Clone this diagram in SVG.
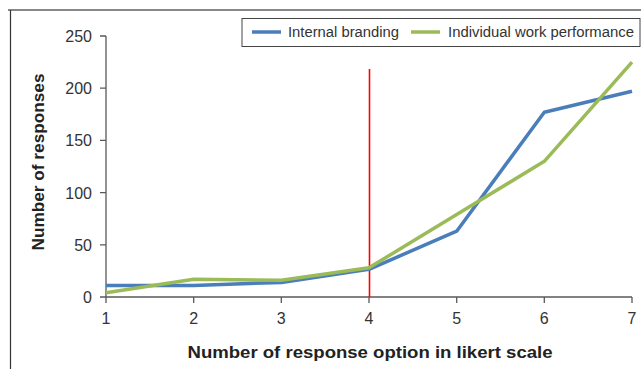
<svg xmlns="http://www.w3.org/2000/svg" width="641" height="369" viewBox="0 0 641 369">
<style>
.lbl{font-family:"Liberation Sans",Arial,sans-serif;font-size:16px;fill:#333}
.ttl{font-family:"Liberation Sans",Arial,sans-serif;font-size:17px;font-weight:bold;fill:#222}
.leg{font-family:"Liberation Sans",Arial,sans-serif;font-size:14px;fill:#333}
.axis{stroke:#595959;stroke-width:1.3;fill:none}
.s1{stroke:#4a7ebb;stroke-width:3.5;fill:none;stroke-linejoin:round}
.s2{stroke:#9bbb59;stroke-width:3.5;fill:none;stroke-linejoin:round}
</style>
<rect width="641" height="369" fill="#fff"/>
<g id="frame">
<line x1="8" y1="10" x2="641" y2="10" stroke="#888" stroke-width="2"/>
<line x1="10.5" y1="10" x2="10.5" y2="369" stroke="#333" stroke-width="1.2"/>
</g>
<g id="y-axis">
<path class="axis" d="M106 36V297M100 36H106M100 88.2H106M100 140.4H106M100 192.6H106M100 244.8H106M100 297H106"/>
<g class="lbl" text-anchor="end">
<text x="92" y="42">250</text>
<text x="92" y="94">200</text>
<text x="92" y="146">150</text>
<text x="92" y="198.5">100</text>
<text x="92" y="250.5">50</text>
<text x="92" y="303">0</text>
</g>
<text class="ttl" transform="translate(44,162) rotate(-90)" text-anchor="middle" textLength="177" lengthAdjust="spacingAndGlyphs">Number of responses</text>
</g>
<g id="x-axis">
<path class="axis" d="M106 297H632M106 297V303M193.7 297V303M281.3 297V303M369 297V303M456.7 297V303M544.3 297V303M632 297V303"/>
<g class="lbl" text-anchor="middle">
<text x="106" y="324">1</text>
<text x="193.7" y="324">2</text>
<text x="281.3" y="324">3</text>
<text x="369" y="324">4</text>
<text x="456.7" y="324">5</text>
<text x="544.3" y="324">6</text>
<text x="632" y="324">7</text>
</g>
<text class="ttl" x="370" y="358" text-anchor="middle" textLength="365" lengthAdjust="spacingAndGlyphs">Number of response option in likert scale</text>
</g>
<g id="connectors">
<line id="cutoff" x1="369.5" y1="69" x2="369.5" y2="297" stroke="#ff0000" stroke-width="1.6"/>
<polyline id="internal-branding" class="s1" points="106,285.5 193.7,285.5 281.3,282.4 369,269.3 456.7,231.2 544.3,112.2 632,91.3"/>
<polyline id="individual-work-performance" class="s2" points="106,292.8 193.7,279.3 281.3,280.3 369,267.8 456.7,214.5 544.3,161.3 632,62.1"/>
</g>
<g id="legend">
<rect x="242" y="18.5" width="398" height="28" fill="#fff" stroke="#444" stroke-width="1"/>
<line class="s1" x1="252" y1="32" x2="281" y2="32"/>
<text class="leg" x="288" y="37" textLength="111" lengthAdjust="spacingAndGlyphs">Internal branding</text>
<line class="s2" x1="411" y1="32" x2="440" y2="32"/>
<text class="leg" x="448" y="37" textLength="186" lengthAdjust="spacingAndGlyphs">Individual work performance</text>
</g>
</svg>
